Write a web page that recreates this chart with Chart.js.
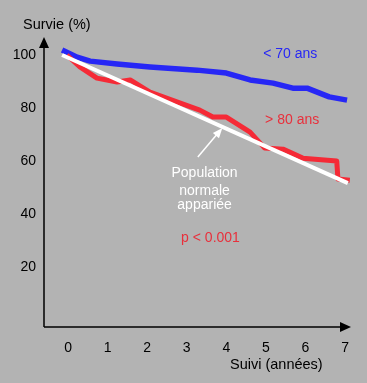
<!DOCTYPE html>
<html>
<head>
<meta charset="utf-8">
<script src="https://cdn.jsdelivr.net/npm/chart.js@4/dist/chart.umd.min.js"></script>
<style>
  html, body { margin: 0; padding: 0; background: #b3b3b3; }
  #wrap { width: 367px; height: 383px; }
</style>
</head>
<body>
<div id="wrap"><canvas id="chartSurvie" width="367" height="383"></canvas></div>
<script>
// ====== DATA ======
const yTicks = [20, 40, 60, 80, 100];
const xTicks = [0, 1, 2, 3, 4, 5, 6, 7];

// < 70 ans
const jeunesX = [-0.15, 0.23, 0.56, 1.24, 2.07, 3.26, 4.0, 4.6, 5.18, 5.68, 6.04, 6.6, 7.05];
const jeunesY = [101.9, 99.2, 97.7, 96.6, 95.5, 94.3, 93.2, 90.6, 89.4, 87.5, 87.5, 84.2, 83.0];

// > 80 ans
const agesX = [-0.03, 0.3, 0.73, 1.24, 1.57, 2.07, 2.75, 3.33, 3.66, 4.0, 4.6, 4.97, 5.43, 5.93, 6.79, 6.82, 7.12];
const agesY = [100, 95.5, 91.3, 89.8, 90.6, 86.0, 82.3, 79.2, 76.6, 76.6, 70.9, 64.9, 64.5, 61.1, 60.0, 53.2, 52.8];

// Population normale appariée
const popX = [-0.15, 7.07];
const popY = [100, 51.7];

const COLORS = {
    fond:  '#b3b3b3',
    bleu:  '#2727f5',
    rouge: '#f52a36',
    texteRouge: '#e8303c',
    blanc: '#ffffff',
    noir:  '#000000',
};
const FONT = 'Liberation Sans, Arial, sans-serif';

function pts(xs, ys) { return xs.map((x, i) => ({ x: x, y: ys[i] })); }

// ====== AXES + ANNOTATIONS ======
const decor = {
    id: 'decor',
    beforeDraw(chart) {
        const ctx = chart.ctx;
        ctx.save();
        ctx.fillStyle = COLORS.fond;
        ctx.fillRect(0, 0, chart.width, chart.height);
        ctx.restore();
    },
    afterDatasetsDraw(chart) {
        const ctx = chart.ctx;
        const a = chart.chartArea;
        const sx = chart.scales.x, sy = chart.scales.y;
        ctx.save();
        // axis lines
        ctx.strokeStyle = COLORS.noir;
        ctx.fillStyle = COLORS.noir;
        ctx.lineWidth = 1.5;
        ctx.beginPath();
        ctx.moveTo(a.left, a.bottom);
        ctx.lineTo(a.left, a.top + 8);
        ctx.moveTo(a.left, a.bottom);
        ctx.lineTo(a.right - 8, a.bottom);
        ctx.stroke();
        // arrow heads
        ctx.beginPath();
        ctx.moveTo(a.left, a.top);
        ctx.lineTo(a.left - 5, a.top + 11);
        ctx.lineTo(a.left + 5, a.top + 11);
        ctx.closePath();
        ctx.fill();
        ctx.beginPath();
        ctx.moveTo(a.right, a.bottom);
        ctx.lineTo(a.right - 11, a.bottom - 5);
        ctx.lineTo(a.right - 11, a.bottom + 5);
        ctx.closePath();
        ctx.fill();

        // axis titles
        ctx.font = '14.5px ' + FONT;
        ctx.textBaseline = 'middle';
        ctx.textAlign = 'left';
        ctx.fillText('Survie (%)', 23, 25);
        ctx.fillText('Suivi (années)', 230, 365);

        // series labels
        ctx.font = '14px ' + FONT;
        ctx.fillStyle = COLORS.bleu;
        ctx.fillText('< 70 ans', sx.getPixelForValue(4.93), sy.getPixelForValue(100.5));
        ctx.fillStyle = COLORS.texteRouge;
        ctx.fillText('> 80 ans', sx.getPixelForValue(4.98), sy.getPixelForValue(75.5));
        ctx.textAlign = 'center';
        ctx.fillText('p < 0.001', sx.getPixelForValue(3.6), sy.getPixelForValue(31));

        ctx.fillStyle = COLORS.blanc;
        ctx.fillText('Population', sx.getPixelForValue(3.45), sy.getPixelForValue(55.5));
        ctx.fillText('normale', sx.getPixelForValue(3.45), sy.getPixelForValue(48.7));
        ctx.fillText('appariée', sx.getPixelForValue(3.45), sy.getPixelForValue(43.3));

        // arrow to the reference line
        const x0 = sx.getPixelForValue(3.28), y0 = sy.getPixelForValue(61.5);
        const x1 = sx.getPixelForValue(3.9), y1 = sy.getPixelForValue(72.5);
        const ang = Math.atan2(y1 - y0, x1 - x0);
        ctx.strokeStyle = COLORS.blanc;
        ctx.lineWidth = 1.5;
        ctx.beginPath();
        ctx.moveTo(x0, y0);
        ctx.lineTo(x1 - 6 * Math.cos(ang), y1 - 6 * Math.sin(ang));
        ctx.stroke();
        ctx.beginPath();
        ctx.moveTo(x1, y1);
        ctx.lineTo(x1 - 10 * Math.cos(ang) + 4 * Math.sin(ang), y1 - 10 * Math.sin(ang) - 4 * Math.cos(ang));
        ctx.lineTo(x1 - 10 * Math.cos(ang) - 4 * Math.sin(ang), y1 - 10 * Math.sin(ang) + 4 * Math.cos(ang));
        ctx.closePath();
        ctx.fill();
        ctx.restore();
    }
};

// ====== CHART ======
new Chart(document.getElementById('chartSurvie'), {
    type: 'scatter',
    data: {
        datasets: [
            {
                label: 'Population normale appariée',
                data: pts(popX, popY),
                showLine: true,
                borderColor: COLORS.blanc,
                borderWidth: 4,
                pointRadius: 0,
            },
            {
                label: '> 80 ans',
                data: pts(agesX, agesY),
                showLine: true,
                borderColor: COLORS.rouge,
                borderWidth: 5,
                borderJoinStyle: 'round',
                pointRadius: 0,
            },
            {
                label: '< 70 ans',
                data: pts(jeunesX, jeunesY),
                showLine: true,
                borderColor: COLORS.bleu,
                borderWidth: 5.5,
                borderJoinStyle: 'round',
                pointRadius: 0,
            },
        ]
    },
    options: {
        responsive: false,
        animation: false,
        layout: { padding: { top: 37, right: 16, left: 0, bottom: 0 } },
        plugins: {
            legend: { display: false },
            tooltip: { enabled: false }
        },
        scales: {
            x: {
                type: 'linear',
                min: -0.607,
                max: 7.15,
                afterFit: s => { s.height = 56; },
                afterBuildTicks: s => { s.ticks = xTicks.map(v => ({ value: v })); },
                grid: { display: false, drawTicks: false },
                border: { display: false },
                ticks: { color: COLORS.noir, padding: 13, font: { family: FONT, size: 14 } }
            },
            y: {
                type: 'linear',
                min: -2.6,
                max: 106.8,
                afterFit: s => { s.width = 44; },
                afterBuildTicks: s => { s.ticks = yTicks.map(v => ({ value: v })); },
                grid: { display: false, drawTicks: false },
                border: { display: false },
                ticks: { color: COLORS.noir, padding: 8, font: { family: FONT, size: 14 } }
            }
        }
    },
    plugins: [decor]
});
</script>
</body>
</html>
